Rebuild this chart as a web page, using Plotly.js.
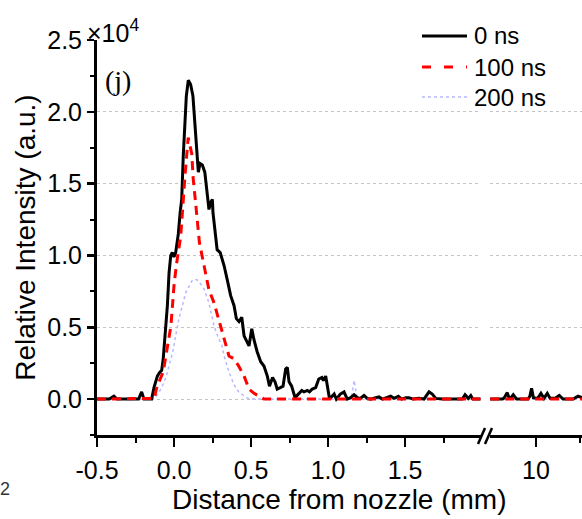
<!DOCTYPE html>
<html>
<head>
<meta charset="utf-8">
<script src="https://cdn.plot.ly/plotly-3.0.1.min.js"></script>
<style>html,body{margin:0;padding:0;background:#fff;}#chart{width:582px;height:519px;}</style>
</head>
<body>
<div id="chart"></div>
<script>
// Distance from nozzle (mm) and relative intensity (x10^4 a.u.)
// ---- 0 ns, left segment ----
const x0ns = [-0.5,-0.42,-0.39,-0.37,-0.23,-0.21,-0.195,-0.145,-0.13,-0.108,-0.093,-0.08,-0.07,-0.065,-0.054,-0.043,-0.032,-0.021,-0.011,0.0,0.011,0.028,0.04,0.05,0.06,0.071,0.08,0.093,0.108,0.123,0.136,0.147,0.158,0.169,0.184,0.2,0.216,0.227,0.238,0.249,0.253,0.27,0.28,0.3,0.325,0.346,0.368,0.39,0.405,0.422,0.44,0.455,0.47,0.487,0.505,0.52,0.54,0.563,0.584,0.606,0.62,0.64,0.656,0.67,0.69,0.708,0.725,0.736,0.747,0.764,0.786,0.807,0.83,0.844,0.866,0.88,0.898,0.92,0.94,0.96,0.97,0.985,1.0,1.01,1.04,1.054,1.08,1.104,1.125,1.147,1.169,1.19,1.21,1.234,1.255,1.277,1.31,1.331,1.353,1.385,1.407,1.429,1.457,1.478,1.505,1.526,1.552,1.59,1.623,1.656,1.677,1.7,1.742,1.829,1.872,1.89,1.911,1.927,1.94,1.99];
const y0ns = [0,0,0.02,0,0,0.05,0,0,0.08,0.16,0.185,0.2,0.28,0.34,0.49,0.65,0.88,1.0,1.02,0.99,1.02,1.15,1.3,1.39,1.69,1.94,2.11,2.22,2.19,2.11,1.9,1.71,1.58,1.64,1.63,1.58,1.41,1.32,1.37,1.39,1.3,1.15,1.04,1.02,0.93,0.83,0.72,0.65,0.56,0.54,0.57,0.44,0.41,0.37,0.49,0.41,0.33,0.26,0.23,0.16,0.09,0.15,0.12,0.07,0.08,0.09,0.21,0.22,0.12,0.09,0.01,0.035,0.06,0.05,0.06,0.05,0.07,0.08,0.14,0.15,0.13,0.16,0.07,0,0.035,0,0.035,0.05,0,0.01,0.03,0.01,0.005,0.025,0.005,0,0.01,0.015,0,0.01,0.02,0.005,0.02,0,0.01,0.01,0,0.005,0,0.05,0.035,0.005,0,0,0,0.03,0.005,0.025,0,0];
// ---- 0 ns, right segment ----
const x0nsR = [9.74,9.81,9.82,9.837,9.847,9.858,9.871,9.89,9.955,9.965,9.975,9.985,10.01,10.028,10.045,10.064,10.08,10.108,10.132,10.153,10.21,10.239,10.261];
const y0nsR = [0,0,0.01,0.045,0.01,0.01,0.03,0,0,0.02,0.075,0.01,0.005,0.04,0.005,0.04,0.005,0.005,0.025,0,0,0.02,0.01];
// ---- 100 ns ----
const x100ns = [-0.5,-0.14,-0.128,-0.108,-0.097,-0.07,-0.043,-0.02,-0.01,0.0,0.015,0.032,0.043,0.05,0.06,0.071,0.082,0.092,0.115,0.125,0.14,0.158,0.165,0.195,0.227,0.26,0.29,0.325,0.357,0.39,0.42,0.455,0.487,0.52,0.55,0.584,1.99];
const y100ns = [0,0,0.005,0.1,0.12,0.19,0.38,0.51,0.65,0.79,0.93,1.04,1.13,1.23,1.41,1.55,1.69,1.82,1.71,1.53,1.37,1.2,1.09,0.93,0.76,0.67,0.56,0.42,0.3,0.28,0.23,0.16,0.07,0.04,0.02,0,0];
const x100nsR = [9.74,10.261];
const y100nsR = [0,0];
// ---- 200 ns ----
const x200ns = [-0.5,-0.14,-0.12,-0.08,-0.05,-0.01,0.03,0.076,0.12,0.15,0.19,0.227,0.26,0.29,0.31,0.325,0.36,0.39,0.42,0.47,0.5,1.15,1.17,1.19,1.99];
const y200ns = [0,0,0.01,0.08,0.16,0.32,0.55,0.74,0.83,0.83,0.78,0.67,0.51,0.42,0.38,0.3,0.18,0.1,0.05,0.01,0,0,0.13,0,0];
const x200nsR = [9.74,10.261];
const y200nsR = [0,0];

const seriesNames = ['0 ns','100 ns','200 ns'];
const xTickVals = [-0.5,0,0.5,1.0,1.5];
const xTickText = ['-0.5','0.0','0.5','1.0','1.5'];
const x2TickVals = [10];
const x2TickText = ['10'];

const blackLine = {color:'#000000', width:3};
const redLine = {color:'#ff0000', width:3, dash:'9px,6px'};
const blueLine = {color:'#b8b8ff', width:1.5, dash:'dot'};

const traces = [
  {x:x200ns, y:y200ns, xaxis:'x', yaxis:'y', mode:'lines', line:blueLine, name:seriesNames[2], showlegend:false},
  {x:x200nsR, y:y200nsR, xaxis:'x2', yaxis:'y', mode:'lines', line:blueLine, name:seriesNames[2], showlegend:false},
  {x:x0ns, y:y0ns, xaxis:'x', yaxis:'y', mode:'lines', line:blackLine, name:seriesNames[0], showlegend:false},
  {x:x0nsR, y:y0nsR, xaxis:'x2', yaxis:'y', mode:'lines', line:blackLine, name:seriesNames[0], showlegend:false},
  {x:x100ns, y:y100ns, xaxis:'x', yaxis:'y', mode:'lines', line:redLine, name:seriesNames[1], showlegend:false},
  {x:x100nsR, y:y100nsR, xaxis:'x2', yaxis:'y', mode:'lines', line:redLine, name:seriesNames[1], showlegend:false}
];

const F = 'Liberation Sans, Arial, sans-serif';
const L = 97, R = 582, T = 40, B = 435;
const px = v => (v - L) / (R - L);
const py = v => (B - v) / (B - T);

const axisCommon = {
  showline:true, linecolor:'#000', linewidth:3, ticks:'outside', ticklen:9, tickwidth:2.5, tickcolor:'#000',
  showgrid:false, zeroline:false, tickfont:{family:F, size:25, color:'#000'}, fixedrange:true
};

const layout = {
  width:582, height:519,
  margin:{l:L, r:0, t:T, b:519-B},
  paper_bgcolor:'#fff', plot_bgcolor:'#fff',
  showlegend:false,
  font:{family:F, color:'#000'},
  xaxis: Object.assign({}, axisCommon, {
    domain:[0, px(481)], range:[-0.5, 1.9935], tickmode:'array', tickvals:xTickVals, ticktext:xTickText, anchor:'y',
    ticklabelstandoff:2,
    minor:{ticks:'outside', ticklen:5, tickwidth:2, tickcolor:'#000', dtick:0.25, tick0:0, showgrid:false}
  }),
  xaxis2: Object.assign({}, axisCommon, {
    domain:[px(490), 1], range:[9.739, 10.261], tickmode:'array', tickvals:x2TickVals, ticktext:x2TickText, anchor:'y',
    ticklabelstandoff:2,
    minor:{ticks:'outside', ticklen:5, tickwidth:2, tickcolor:'#000', tickmode:'array', tickvals:[10.25], showgrid:false}
  }),
  yaxis: Object.assign({}, axisCommon, {
    range:[-0.25, 2.5], tick0:0, dtick:0.5, tickformat:'.1f', ticklen:7,
    showgrid:true, gridcolor:'#c4c4c4', griddash:'dot', gridwidth:1,
    minor:{ticks:'outside', ticklen:4, tickwidth:2, tickcolor:'#000', dtick:0.25, tick0:0, showgrid:false},
    title:{text:'Relative Intensity (a.u.)', font:{family:F, size:28, color:'#000'}, standoff:4}
  }),
  shapes:[
    // axis break marks
    {type:'line', xref:'paper', yref:'paper', x0:px(478), y0:py(444), x1:px(485), y1:py(428), line:{color:'#000', width:2.5}},
    {type:'line', xref:'paper', yref:'paper', x0:px(485), y0:py(444), x1:px(492), y1:py(428), line:{color:'#000', width:2.5}},
    // legend samples
    {type:'line', xref:'paper', yref:'paper', x0:px(422), y0:py(36), x1:px(467), y1:py(36), line:{color:'#000', width:3}},
    {type:'line', xref:'paper', yref:'paper', x0:px(422), y0:py(67), x1:px(467), y1:py(67), line:{color:'#ff0000', width:3, dash:'9px,13px'}},
    {type:'line', xref:'paper', yref:'paper', x0:px(422), y0:py(97), x1:px(467), y1:py(97), line:{color:'#b8b8ff', width:1.5, dash:'dot'}}
  ],
  annotations:[
    {text:'Distance from nozzle (mm)', xref:'paper', yref:'paper', x:0.5, y:py(499), xanchor:'center', yanchor:'middle', showarrow:false, font:{family:F, size:28, color:'#000'}},
    {text:'×10<sup>4</sup>', xref:'paper', yref:'paper', x:px(85), y:py(31), xanchor:'left', yanchor:'middle', showarrow:false, font:{family:F, size:25, color:'#000'}},
    {text:'(j)', xref:'paper', yref:'paper', x:px(103), y:py(80), xanchor:'left', yanchor:'middle', showarrow:false, font:{family:'Liberation Serif', size:28, color:'#000'}},
    {text:seriesNames[0], xref:'paper', yref:'paper', x:px(472), y:py(36), xanchor:'left', yanchor:'middle', showarrow:false, font:{family:F, size:24, color:'#000'}},
    {text:seriesNames[1], xref:'paper', yref:'paper', x:px(472), y:py(67), xanchor:'left', yanchor:'middle', showarrow:false, font:{family:F, size:24, color:'#000'}},
    {text:seriesNames[2], xref:'paper', yref:'paper', x:px(472), y:py(97), xanchor:'left', yanchor:'middle', showarrow:false, font:{family:F, size:24, color:'#000'}},
    {text:'2', xref:'paper', yref:'paper', x:px(-2), y:py(489), xanchor:'left', yanchor:'middle', showarrow:false, font:{family:F, size:18, color:'#333'}}
  ]
};

Plotly.newPlot('chart', traces, layout, {displayModeBar:false, staticPlot:true});
</script>
</body>
</html>
